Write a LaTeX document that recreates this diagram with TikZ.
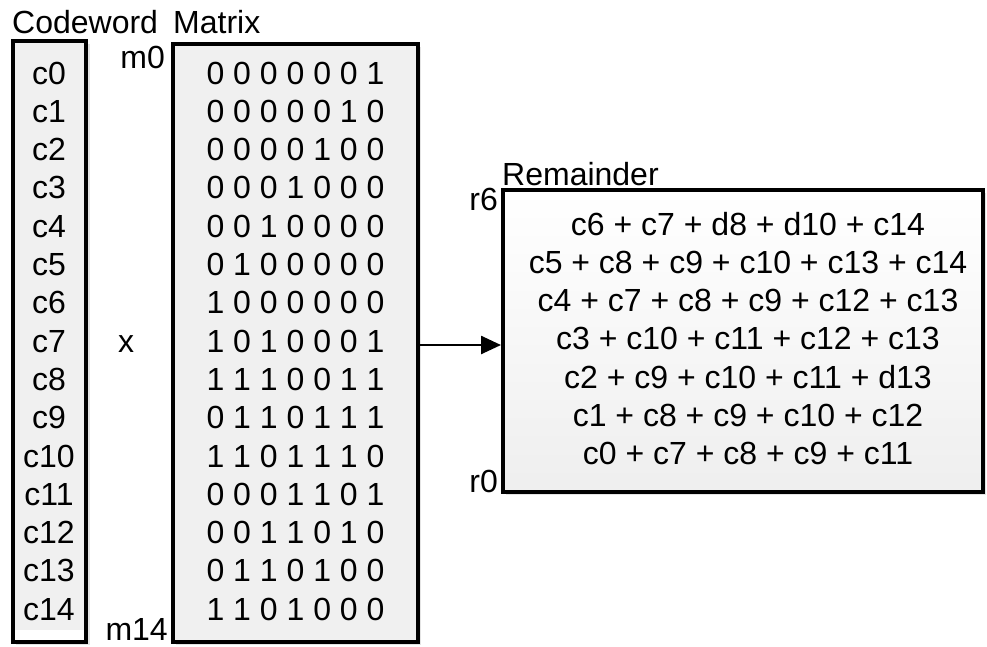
\documentclass[tikz,border=0pt]{standalone}
\usepackage{fontspec}
\setmainfont{Liberation Sans}
\usetikzlibrary{arrows.meta}
\definecolor{boxgray}{HTML}{F0F0F0}
\definecolor{shadowgray}{HTML}{E4E4E4}
\begin{document}
\begin{tikzpicture}[x=1pt,y=-1pt,
  lbl/.style={inner sep=0pt, font=\fontsize{32}{38}\selectfont},
  boxnode/.style={draw=black, line width=4pt, inner sep=0pt, rectangle},
]
\useasboundingbox (0,0) rectangle (987,646);
% faint shadows
\fill[shadowgray] (16,44) rectangle (90,645);
\fill[shadowgray] (176,47) rectangle (421,645);
\fill[shadowgray] (506,193) rectangle (986,495);
% boxes
\node[boxnode, fill=boxgray, minimum width=73pt, minimum height=601pt,
  path picture={\fill[white] (path picture bounding box.south west) rectangle ([yshift=12pt]path picture bounding box.south east);}]
  (cw) at (49.5,341.5) {};
\node[boxnode, fill=boxgray, minimum width=245pt, minimum height=598pt] (mat) at (295.5,343) {};
\node[boxnode, top color=white, bottom color=gray!13, minimum width=480pt, minimum height=302pt] (rem) at (743,341) {};
% titles
\node[lbl, anchor=base west] (tcw) at (12,33) {Codeword};
\node[lbl, anchor=base west] (tmat) at (173,33) {Matrix};
\node[lbl, anchor=base west] (trem) at (502,185) {Remainder};
\node[lbl, anchor=base east] (m0) at (165,68) {m0};
\node[lbl, anchor=base east] (m14) at (168,640) {m14};
\node[lbl, anchor=base east] (r6) at (498,210) {r6};
\node[lbl, anchor=base east] (r0) at (498,492) {r0};
\node[lbl, anchor=base] (times) at (126,352) {x};
% codeword entries
\foreach \i in {0,...,14}{
  \node[lbl, anchor=base] (c\i) at ({49},{84+38.3*\i}) {c\i};
}
% matrix rows
\foreach \i/\r in {0/0 0 0 0 0 0 1, 1/0 0 0 0 0 1 0, 2/0 0 0 0 1 0 0, 3/0 0 0 1 0 0 0,
  4/0 0 1 0 0 0 0, 5/0 1 0 0 0 0 0, 6/1 0 0 0 0 0 0, 7/1 0 1 0 0 0 1, 8/1 1 1 0 0 1 1,
  9/0 1 1 0 1 1 1, 10/1 1 0 1 1 1 0, 11/0 0 0 1 1 0 1, 12/0 0 1 1 0 1 0,
  13/0 1 1 0 1 0 0, 14/1 1 0 1 0 0 0}{
  \node[lbl, anchor=base] (row\i) at ({295.5},{84+38.3*\i}) {\r};
}
% remainder lines
\foreach \k/\t in {0/c6 + c7 + d8 + d10 + c14, 1/c5 + c8 + c9 + c10 + c13 + c14,
  2/c4 + c7 + c8 + c9 + c12 + c13, 3/c3 + c10 + c11 + c12 + c13,
  4/c2 + c9 + c10 + c11 + d13, 5/c1 + c8 + c9 + c10 + c12, 6/c0 + c7 + c8 + c9 + c11}{
  \node[lbl, anchor=base] (rl\k) at ({748},{235+38.3*\k}) {\t};
}
% arrow
\draw[line width=2.5pt, -{Triangle[length=20pt, width=18pt]}] ([yshift=-2pt]mat.east) -- ([yshift=-2pt]mat.east -| rem.west);
\end{tikzpicture}
\end{document}
